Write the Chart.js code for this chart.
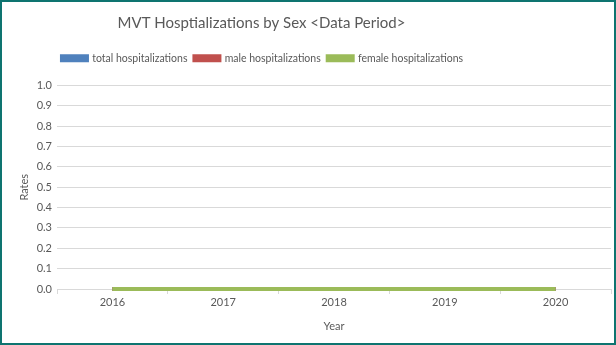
<!DOCTYPE html>
<html>
<head>
<meta charset="utf-8">
<script src="https://cdn.jsdelivr.net/npm/chart.js@4/dist/chart.umd.min.js"></script>
<style>
  html, body { margin: 0; padding: 0; background: #fff; }
  #frame {
    width: 616px; height: 345px; box-sizing: border-box;
    border: 2px solid #0e7470; background: #fff;
  }
  #chart { display: block; }
</style>
</head>
<body>
<div id="frame"><canvas id="chart" width="612" height="341"></canvas></div>
<script>
const years = ['2016', '2017', '2018', '2019', '2020'];
const totalHosp = [0, 0, 0, 0, 0];
const maleHosp = [0, 0, 0, 0, 0];
const femaleHosp = [0, 0, 0, 0, 0];

const textColor = '#595959';
const gridColor = '#d9d9d9';
Chart.defaults.font.family = 'Lato, "Open Sans", sans-serif';
Chart.defaults.color = textColor;

function series(label, data, color, order) {
    return {
        label: label,
        data: data,
        borderColor: color,
        backgroundColor: color,
        borderWidth: 4,
        pointRadius: 0,
        tension: 0,
        clip: false,
        order: order
    };
}

// more room under the legend, and title + legend sit left of centre
const headerLayout = {
    id: 'headerLayout',
    beforeInit(chart) {
        const fit = chart.legend.fit;
        chart.legend.fit = function () {
            fit.call(this);
            this.height += 12;
        };
    },
    afterLayout(chart) {
        chart.legend.left -= 44;
        chart.legend.right -= 44;
        chart.titleBlock.left -= 45;
        chart.titleBlock.right -= 45;
    }
};

new Chart(document.getElementById('chart').getContext('2d'), {
    type: 'line',
    data: {
        labels: years,
        datasets: [
            series('total hospitalizations', totalHosp, '#4f81bd', 2),
            series('male hospitalizations', maleHosp, '#c0504d', 1),
            series('female hospitalizations', femaleHosp, '#9bbb59', 0)
        ]
    },
    options: {
        responsive: false,
        animation: false,
        layout: { padding: { left: 0, right: 3, top: 0, bottom: 0 } },
        plugins: {
            title: {
                display: true,
                text: 'MVT Hosptializations by Sex <Data Period>',
                font: { size: 15, weight: 'normal' },
                color: textColor,
                padding: { top: 12, bottom: 14 }
            },
            legend: {
                position: 'top',
                labels: {
                    boxWidth: 25,
                    boxHeight: 4,
                    font: { size: 10.5 },
                    color: textColor,
                    padding: 7,
                    sort: (a, b) => a.datasetIndex - b.datasetIndex
                }
            },
            tooltip: { enabled: false }
        },
        scales: {
            x: {
                offset: true,
                grid: {
                    offset: true,
                    drawOnChartArea: false,
                    drawTicks: true,
                    tickLength: 5,
                    color: gridColor
                },
                border: { color: gridColor },
                ticks: { font: { size: 11 }, color: textColor, padding: 2 },
                title: {
                    display: true,
                    text: 'Year',
                    font: { size: 11 },
                    color: textColor,
                    padding: { top: 4, bottom: 10 }
                },
                afterFit: (scale) => { scale.height = 54; }
            },
            y: {
                min: 0,
                max: 1,
                ticks: {
                    stepSize: 0.1,
                    autoSkip: false,
                    font: { size: 11 },
                    color: textColor,
                    padding: 5,
                    callback: (v) => v.toFixed(1)
                },
                grid: { color: gridColor, drawTicks: false },
                border: { display: false },
                title: {
                    display: true,
                    text: 'Rates',
                    font: { size: 11 },
                    color: textColor,
                    padding: { top: 16, bottom: 4 }
                },
                afterFit: (scale) => { scale.width = 55; }
            }
        }
    },
    plugins: [headerLayout]
});
</script>
</body>
</html>
